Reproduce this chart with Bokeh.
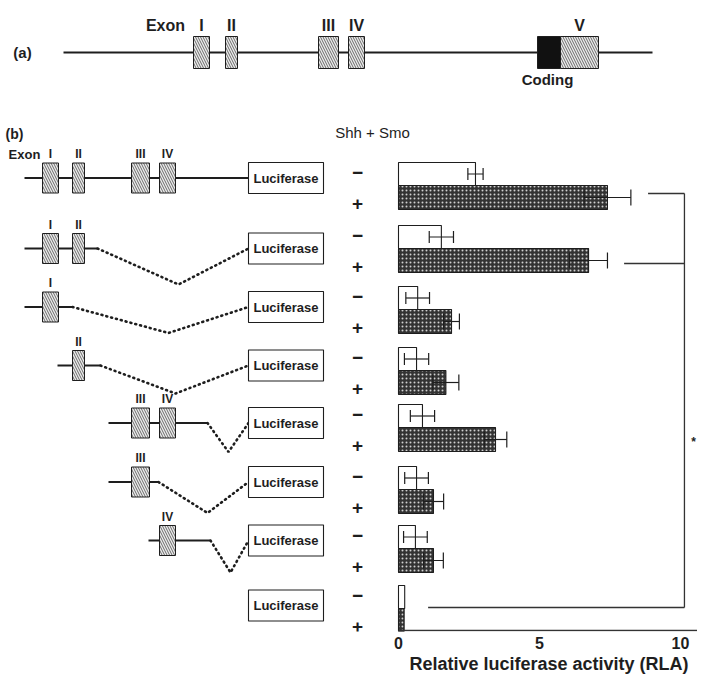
from bokeh.plotting import figure
from bokeh.models import Range1d, LinearAxis, FixedTicker, Title
from bokeh.core.properties import value
from bokeh.embed import file_html
from bokeh.resources import INLINE

# ---------------- data: relative luciferase activity (RLA) ----------------
constructs = ["I-II-III-IV", "I-II", "I", "II", "III-IV", "III", "IV", "none"]
rla_minus = [2.73, 1.52, 0.68, 0.64, 0.85, 0.64, 0.60, 0.22]
err_minus = [0.27, 0.43, 0.42, 0.43, 0.43, 0.42, 0.42, 0.0]
rla_plus = [7.41, 6.74, 1.88, 1.68, 3.44, 1.24, 1.24, 0.20]
err_plus = [0.83, 0.67, 0.28, 0.46, 0.40, 0.36, 0.35, 0.0]
x_ticks = [0, 5, 10]
axis_title = "Relative luciferase activity (RLA)"
treat_title = "Shh + Smo"
treat_labels = ["\u2212", "+"]
row_exons = [["I", "II", "III", "IV"], ["I", "II"], ["I"], ["II"],
             ["III", "IV"], ["III"], ["IV"], []]
gene_exons = ["I", "II", "III", "IV"]

# ---------------- layout (pixel space of the picture) ----------------
FONT = value("Liberation Sans")
X0, X1 = 0, 697
Y_TOP, Y_AXIS = 0, 631
RLA_ORIGIN, PX_PER_RLA = 398, 28.2
rla_range = Range1d((X0 - RLA_ORIGIN) / PX_PER_RLA, (X1 - RLA_ORIGIN) / PX_PER_RLA)

p = figure(width=X1 - X0, height=Y_AXIS + 46, x_range=Range1d(X0, X1),
           y_range=Range1d(Y_AXIS, Y_TOP),
           x_axis_location=None, y_axis_location=None, toolbar_location=None,
           output_backend="svg", min_border_left=0, min_border_right=0,
           min_border_top=0, min_border_bottom=46, outline_line_color=None)
p.extra_x_ranges = {"rla": rla_range}
p.grid.grid_line_color = None

INK = "#1e1e1e"
HATCH = dict(fill_color="#ececec", hatch_pattern="\\", hatch_color="#5a5a5a",
             hatch_scale=5, hatch_weight=0.9, line_color=INK, line_width=1)


def label(xs, ys, texts, size, bold=True, align="center"):
    p.text(x=xs, y=ys, text=texts, text_font=FONT, text_font_size=size,
           text_font_style="bold" if bold else "normal", text_color=INK,
           text_align=align, text_baseline="middle")


# ---------------- (a) gene structure ----------------
a_y = 52
a_exon_x = {"I": (193, 209), "II": (225, 237), "III": (318, 338), "IV": (348, 364)}
p.line([63, 652], [a_y, a_y], line_color=INK, line_width=2.2)
p.quad(left=[a_exon_x[e][0] for e in gene_exons], right=[a_exon_x[e][1] for e in gene_exons],
       top=[a_y - 16] * 4, bottom=[a_y + 16] * 4, **HATCH)
p.quad(left=[537], right=[560], top=[a_y - 16], bottom=[a_y + 16],
       fill_color="#111111", line_color=INK)
p.quad(left=[560], right=[598], top=[a_y - 16], bottom=[a_y + 16], **HATCH)
label([22], [a_y], ["(a)"], "15px")
label([165] + [sum(a_exon_x[e]) / 2 for e in gene_exons] + [579], [25] * 6,
      ["Exon"] + gene_exons + ["V"], "16px")
label([547], [79], ["Coding"], "15px")

# ---------------- (b) constructs ----------------
label([14], [133], ["(b)"], "14px")
label([372], [132], [treat_title], "15px", bold=False)

b_exon_x = {"I": (42, 58), "II": (72, 84), "III": (131, 149), "IV": (159, 175)}
line_y = [177.5, 248, 306.5, 365, 422.5, 481.5, 540, 605]
solid = [(24, 248), (24, 97), (24, 72), (57, 100), (108, 207), (108, 158), (148, 210), None]
dip = [None, (178, 36), (168, 26), (175, 28), (228, 29), (207, 31), (230, 32), None]
LUC_L, LUC_R = 248, 323

dx, dy = [], []
for k, ly in enumerate(line_y):
    if solid[k]:
        p.line(list(solid[k]), [ly, ly], line_color=INK, line_width=2.2)
    if dip[k]:
        dx.append([solid[k][1], dip[k][0], LUC_L])
        dy.append([ly, ly + dip[k][1], ly])
    ex = row_exons[k]
    if ex:
        p.quad(left=[b_exon_x[e][0] for e in ex], right=[b_exon_x[e][1] for e in ex],
               top=[ly - 15] * len(ex), bottom=[ly + 15] * len(ex), **HATCH)
        label([sum(b_exon_x[e]) / 2 for e in ex], [ly - 24] * len(ex), ex, "12px")
p.multi_line(dx, dy, line_color=INK, line_width=2.6, line_dash="1 4", line_cap="round")
label([24], [line_y[0] - 24], ["Exon"], "13px")

p.quad(left=[LUC_L] * 8, right=[LUC_R] * 8, top=[y - 15.5 for y in line_y],
       bottom=[y + 15.5 for y in line_y], fill_color="white", line_color=INK, line_width=1.1)
label([(LUC_L + LUC_R) / 2] * 8, line_y, ["Luciferase"] * 8, "13px")

# ---------------- bars ----------------
bar_top = [162, 225, 286, 347, 404, 466, 525, 585]
c_minus = [t + 11.5 for t in bar_top]
c_plus = [t + 35 for t in bar_top]

label([357] * 8, [t + 10 for t in bar_top], [treat_labels[0]] * 8, "19px")
label([357] * 8, [t + 41 for t in bar_top], [treat_labels[1]] * 8, "19px")

p.hbar(y=c_minus, left=0, right=rla_minus, height=23, x_range_name="rla",
       fill_color="white", line_color=INK, line_width=1.1)
p.hbar(y=c_plus, left=0, right=rla_plus, height=24, x_range_name="rla",
       fill_color="#333333", hatch_pattern="dot", hatch_color="#d0d0d0",
       hatch_scale=4, hatch_weight=1.3, line_color=INK, line_width=1.1)

for cs, vals, errs, cap in [(c_minus, rla_minus, err_minus, 12), (c_plus, rla_plus, err_plus, 16)]:
    idx = [i for i in range(len(vals)) if errs[i] > 0]
    lo = [vals[i] - errs[i] for i in idx]
    hi = [vals[i] + errs[i] for i in idx]
    yc = [cs[i] for i in idx]
    p.segment(x0=lo, x1=hi, y0=yc, y1=yc, x_range_name="rla", line_color=INK, line_width=1.2)
    p.segment(x0=lo + hi, x1=lo + hi, y0=[y - cap / 2 for y in yc] * 2,
              y1=[y + cap / 2 for y in yc] * 2, x_range_name="rla", line_color=INK, line_width=1.2)

# significance bracket
br_x = 10.14
arm_y = [193, 263, 607]
arm_x = [8.85, 8.0, 1.05]
p.segment(x0=arm_x + [br_x], x1=[br_x] * 3 + [br_x], y0=arm_y + [arm_y[0]],
          y1=arm_y + [arm_y[-1]], x_range_name="rla", line_color="#333333", line_width=1.3)
p.text(x=[10.46], y=[441], text=["*"], x_range_name="rla", text_font=FONT,
       text_font_size="12px", text_font_style="bold", text_color=INK,
       text_align="center", text_baseline="middle")

# axis baseline (x from 0 to the end of the axis)
p.segment(x0=[0], x1=[10.6], y0=[Y_AXIS - 1], y1=[Y_AXIS - 1], x_range_name="rla",
          line_color="#333333", line_width=1.6)

# ---------------- RLA axis ----------------
ax = LinearAxis(x_range_name="rla", ticker=FixedTicker(ticks=x_ticks), bounds=(0, 10.6))
ax.axis_line_color = None
ax.major_tick_line_color = None
ax.minor_tick_line_color = None
ax.major_tick_out = 0
ax.major_tick_in = 0
ax.minor_tick_out = 0
ax.minor_tick_in = 0
ax.major_label_standoff = 5
ax.major_label_text_font = "Liberation Sans"
ax.major_label_text_font_style = "bold"
ax.major_label_text_font_size = "16px"
ax.major_label_text_color = INK
p.add_layout(ax, "below")

p.add_layout(Title(text=axis_title, align="left", offset=409, standoff=0,
                   text_font="Liberation Sans", text_font_style="bold",
                   text_font_size="18px", text_color=INK), "below")

open("out.html", "w").write(file_html(p, INLINE))
